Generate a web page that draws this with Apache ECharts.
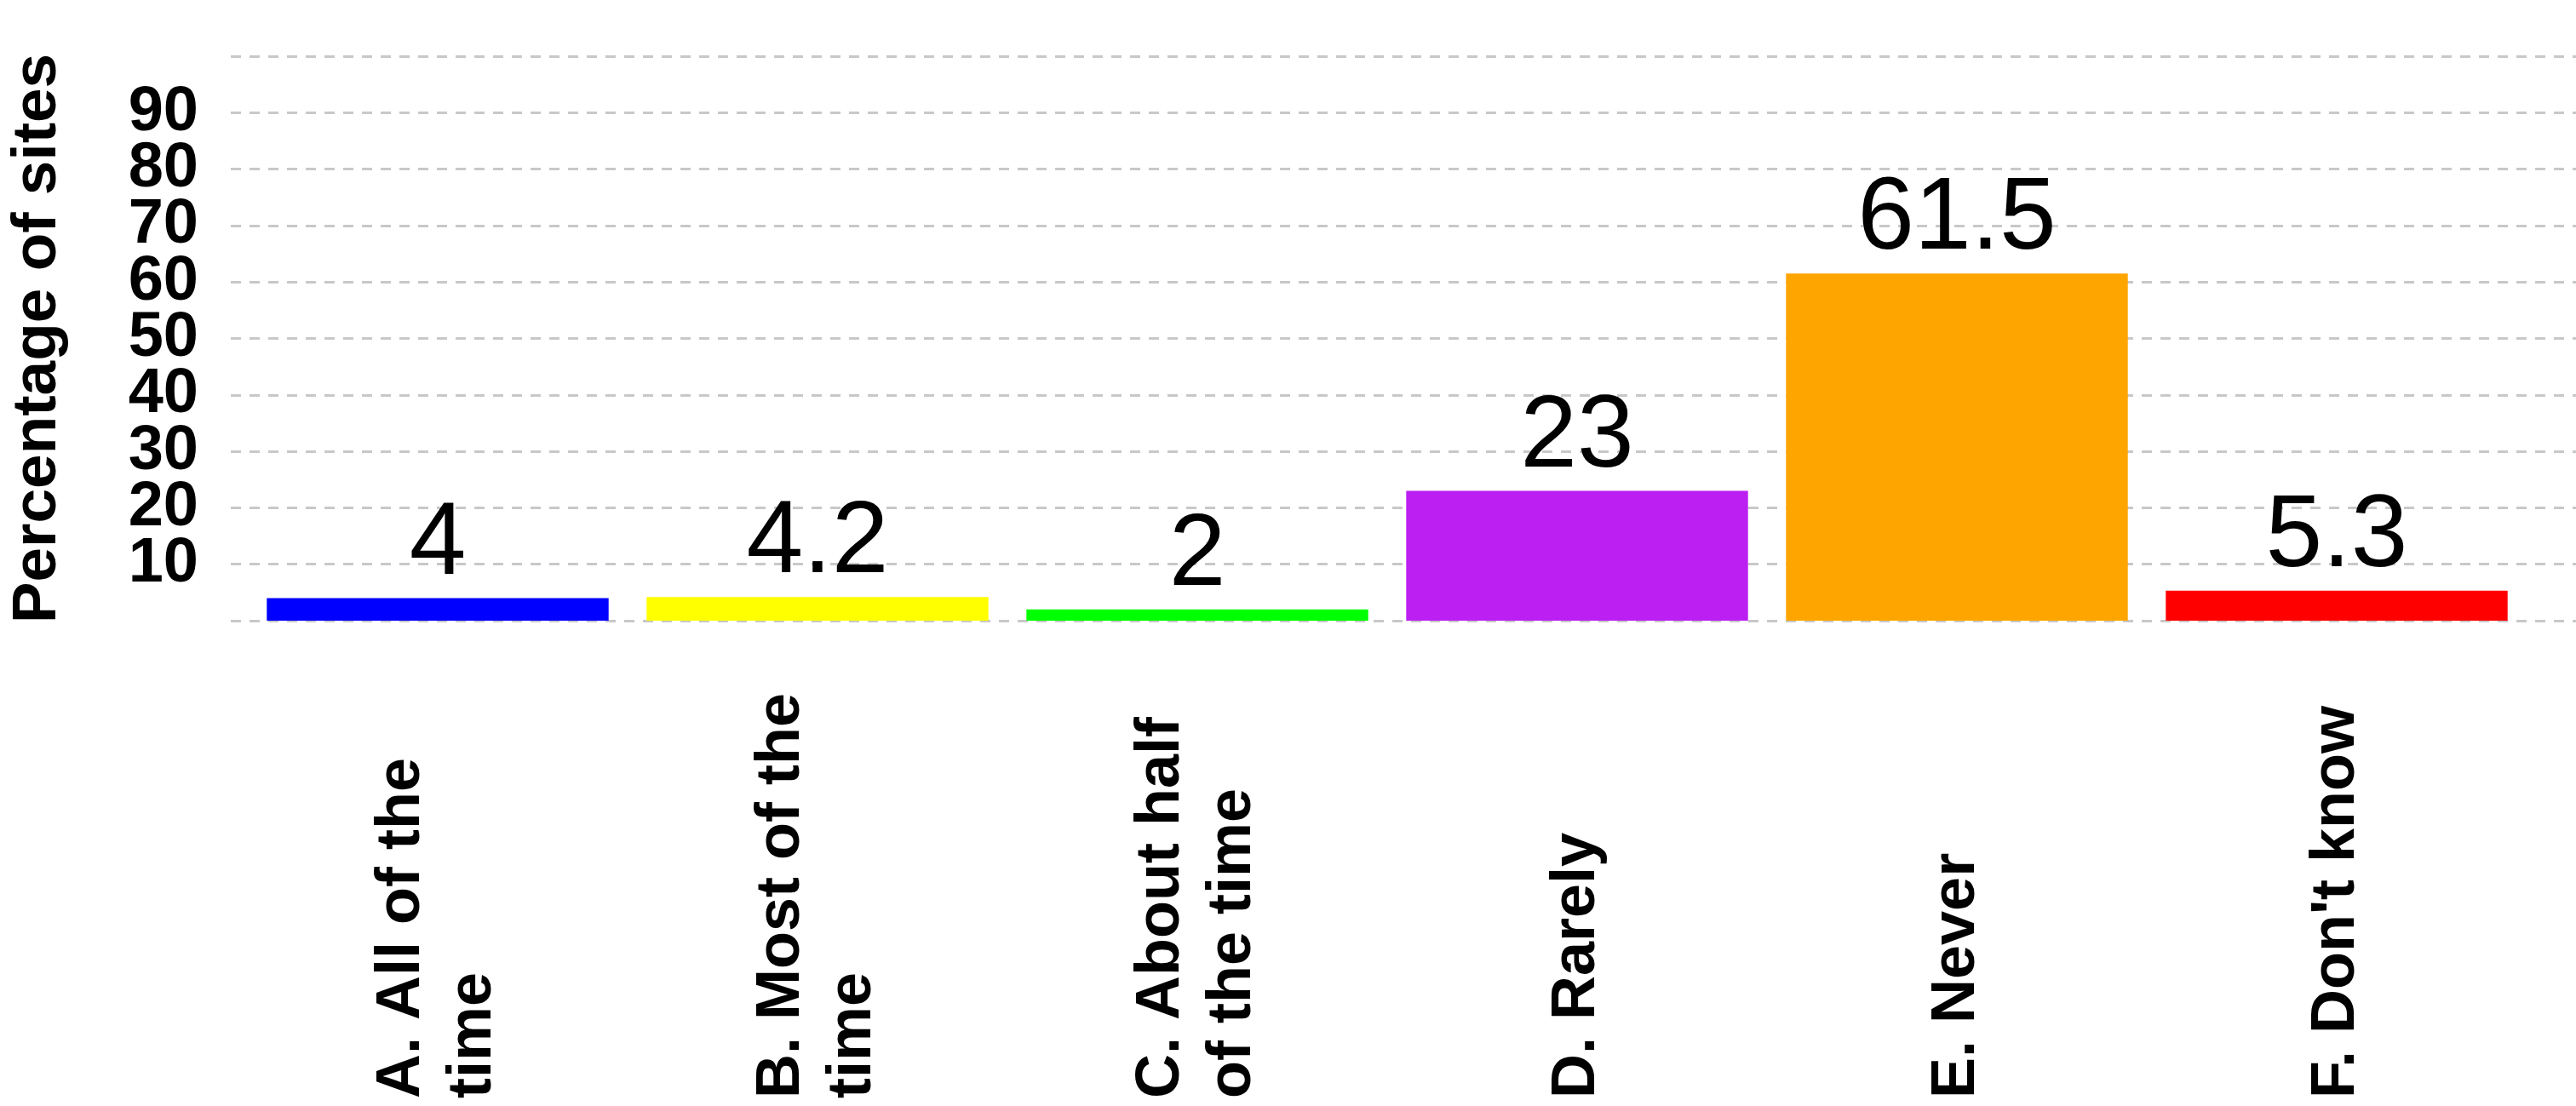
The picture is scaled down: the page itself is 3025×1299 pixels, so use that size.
<!DOCTYPE html>
<html><head><meta charset="utf-8">
<script src="https://cdn.jsdelivr.net/npm/echarts@6/dist/echarts.min.js"></script>
<style>html,body{margin:0;padding:0;background:#fff}#c{width:3025px;height:1299px}</style>
</head><body><div id="c"></div>
<script>
const categories = ["A. All of the\ntime", "B. Most of the\ntime", "C. About half\nof the time", "D. Rarely", "E. Never", "F. Don't know"];
const values = [4, 4.2, 2, 23, 61.5, 5.3];
const colors = ["#0000FF", "#FFFF00", "#00FF00", "#BB1FF2", "#FFA500", "#FF0000"];
const yTicks = [0, 10, 20, 30, 40, 50, 60, 70, 80, 90, 100];

const chart = echarts.init(document.getElementById('c'));
chart.setOption({
  animation: false,
  grid: [
    {left: 252, right: 0, top: 66, bottom: 570},
    {left: 291, right: 58, top: 66, bottom: 570}
  ],
  xAxis: [
    {gridIndex: 0, type: 'value', show: false, min: 0, max: 1},
    {gridIndex: 1, type: 'category', data: categories,
     axisLine: {show: false}, axisTick: {show: false},
     axisLabel: {rotate: 90, align: 'left', verticalAlign: 'middle', margin: 561,
       fontFamily: 'Liberation Sans, Arial', fontWeight: 'bold', fontSize: 72, color: '#000', lineHeight: 84, interval: 0}}
  ],
  yAxis: [
    {gridIndex: 0, type: 'value', min: 0, max: 100, interval: 10,
     name: 'Percentage of sites', nameLocation: 'middle', nameGap: 190,
     nameTextStyle: {fontFamily: 'Liberation Sans, Arial', fontWeight: 'bold', fontSize: 73, color: '#000'},
     axisLine: {show: false}, axisTick: {show: false},
     axisLabel: {margin: 38, fontFamily: 'Liberation Sans, Arial', fontWeight: 'bold', fontSize: 74, color: '#000',
       formatter: v => yTicks.includes(v) ? String(v) : ''},
     splitLine: {lineStyle: {color: '#c8c8c8', type: [12, 10], width: 3}}},
    {gridIndex: 1, type: 'value', min: 0, max: 100, show: false, splitLine: {show: false}}
  ],
  series: [{
    type: 'bar', xAxisIndex: 1, yAxisIndex: 1,
    data: values.map((v, i) => ({value: v, itemStyle: {color: colors[i]}})),
    barCategoryGap: '10%',
    label: {show: true, position: 'top', distance: 2, fontFamily: 'Liberation Sans, Arial', fontSize: 120, color: '#000'}
  }]
});
</script></body></html>
